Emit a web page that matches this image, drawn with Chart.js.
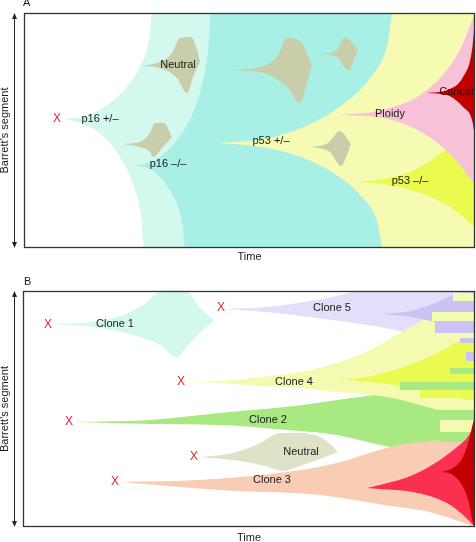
<!DOCTYPE html>
<html>
<head>
<meta charset="utf-8">
<script src="https://cdn.jsdelivr.net/npm/chart.js@4/dist/chart.umd.min.js"></script>
<style>
  body { margin: 0; background: #fff; width: 476px; height: 542px; overflow: hidden; }
  canvas { position: absolute; left: 0; }
  #panelA { top: 0; }
  #panelB { top: 270px; }
</style>
</head>
<body>
<canvas id="panelA" width="476" height="270"></canvas>
<canvas id="panelB" width="476" height="272"></canvas>
<script>
// Units: time 0..451 across the box, segment 0..235 measured down from the top.
// Each clone is an upper and a lower edge starting at the same cusp.

// ---- Panel A ----
const A_P16HET_UP = [[39,106],[62,103],[83,92],[102,75],[116,53],[125,27],[128,0],[451,0]];
const A_P16HET_LO = [[39,106],[60,111],[80,124],[96,144],[109,171],[117,202],[120,235],[451,235]];
const A_P16HOM_UP = [[111,153],[131,147],[149,132],[165,108],[177,76],[184,39],[187,0],[451,0]];
const A_P16HOM_LO = [[111,153],[124,155],[136,164],[146,177],[154,194],[159,214],[161,235],[451,235]];
const A_P53HET_UP = [[194,130],[240,126],[282,113],[318,92],[346,65],[363,33],[369,0],[451,0]];
const A_P53HET_LO = [[194,130],[237,134],[277,144],[311,161],[337,183],[353,208],[359,235],[451,235]];
const A_P53HOM_UP = [[333,169],[359,166],[386,159],[409,146],[429,130],[451,107]];
const A_P53HOM_LO = [[333,169],[359,171],[393,179],[423,192],[451,214]];
const A_PLOIDY_UP = [[316,102],[359,97],[403,77],[436,37],[449,5],[451,0]];
const A_PLOIDY_LO = [[316,102],[359,105],[399,120],[429,144],[451,172]];
const A_CANCER_UP = [[403,80],[423,77],[439,64],[448,37],[451,5]];
const A_CANCER_LO = [[403,80],[423,82],[439,94],[448,107],[451,124]];
const A_NEU1_UP = [[119,53],[136,49],[148,40],[156,25],[167,24],[173,37],[176,49]];
const A_NEU1_LO = [[119,53],[136,55],[153,65],[163,80],[169,64],[176,49]];
const A_NEU2_UP = [[99,131],[116,129],[126,120],[131,110],[140,110],[148,124]];
const A_NEU2_LO = [[99,131],[116,134],[126,139],[129,144],[139,134],[148,124]];
const A_NEU3_UP = [[209,57],[236,54],[253,44],[263,25],[276,28],[288,52]];
const A_NEU3_LO = [[209,57],[243,61],[263,74],[276,90],[283,70],[288,52]];
const A_NEU4_UP = [[297,41],[313,37],[321,24],[334,37]];
const A_NEU4_LO = [[297,41],[313,44],[325,58],[330,47],[334,37]];
const A_NEU5_UP = [[288,134],[304,130],[316,118],[327,131]];
const A_NEU5_LO = [[288,134],[306,139],[317,153],[323,142],[327,131]];

const A_LABELS = ["p16 +/\u2013", "Neutral", "p16 \u2013/\u2013", "p53 +/\u2013", "Ploidy", "p53 \u2013/\u2013", "Cancer"];
const A_LABEL_AT = [[76,106],[154,52],[144,151],[247,128],[366,101],[386,168],[433,79]];
const A_MARKS = [[33,106]];

// ---- Panel B ----
const B_CLONE1_UP = [[30,33],[60,32],[94,26],[120,14],[139,1],[164,1],[177,17],[192,29]];
const B_CLONE1_LO = [[30,33],[70,36],[110,44],[137,54],[153,66],[167,52],[180,39],[192,29]];
const B_NEUTRAL_UP = [[177,166],[210,162],[237,152],[257,142],[277,142],[297,146],[307,153],[315,161]];
const B_NEUTRAL_LO = [[177,166],[217,170],[242,175],[260,180],[277,175],[297,168],[315,161]];
const B_CLONE2_UP = [[51,131],[127,129],[197,122],[280,114],[314,109],[357,103],[397,93],[427,84],[452,73]];
const B_CLONE2_LO = [[51,131],[127,133],[197,134],[264,139],[314,144],[367,156],[397,160],[427,165],[452,171]];
const B_CLONE5_UP = [[204,18],[244,16],[294,9],[344,0],[452,0]];
const B_CLONE5_LO = [[204,18],[244,21],[294,27],[344,34],[377,40],[407,49],[452,69]];
const B_CLONE5B_UP = [[359,23],[387,20],[412,12],[432,3],[452,0]];
const B_CLONE5B_LO = [[359,23],[387,26],[412,31],[432,37],[452,45]];
const B_CLONE4_UP = [[164,91],[197,90],[237,86],[277,81],[317,71],[347,59],[377,42],[407,25],[432,11],[452,1]];
const B_CLONE4_LO = [[164,91],[197,92],[237,95],[264,96],[314,101],[364,106],[397,114],[427,124],[452,139]];
const B_CLONE4B_UP = [[314,88],[337,87],[357,83],[397,70],[424,57],[452,43]];
const B_CLONE4B_LO = [[314,88],[337,90],[357,92],[390,97],[422,104],[452,111]];
const B_CLONE3_UP = [[98,191],[177,189],[264,181],[314,172],[367,156],[397,151],[427,149],[452,150]];
const B_CLONE3_LO = [[98,191],[197,199],[297,204],[367,215],[407,221],[452,236]];
const B_RED_UP = [[344,197],[357,194],[390,184],[417,169],[434,156],[444,147],[452,134]];
const B_RED_LO = [[344,197],[357,198],[390,201],[424,212],[440,224],[452,236]];
const B_DARK_UP = [[419,181],[430,177],[440,166],[446,149],[450,132],[452,124]];
const B_DARK_LO = [[419,181],[430,184],[440,196],[446,212],[450,232],[452,236]];

// interleaved bands near the end of the segment
const B_STRIPE_CLONE = ["c4","c4","c5b","c4","c5b","c4b","c5b","c4b","c2","c4b","c2","c4b","c4","c2","c4","c2"];
const B_STRIPE_START = [430,409,412,432,437,429,443,432,427,417,377,397,417,397,417,417];
const B_STRIPE_TOP   = [2,21,30,42,47,52,61,70,77,83,91,99,109,119,129,141];
const B_STRIPE_BOT   = [10,30,42,47,52,61,70,77,83,90,99,107,119,129,141,151];

const B_LABELS = ["Clone 1", "Clone 5", "Clone 4", "Clone 2", "Neutral", "Clone 3"];
const B_LABEL_AT = [[92,33],[309,17],[271,91],[245,129],[278,161],[249,189]];
const B_MARKS = [[25,34],[198,17],[158,91],[46,131],[171,166],[92,191]];

const COLORS = {
  p16het: "#d3f8ee", p16hom: "#a8efe6", p53het: "#f5fbb2", p53hom: "#ebfa4e",
  ploidy: "#f7c1d7", cancer: "#c30000", neutralA: "#c8cea9",
  c1: "#d3f8ee", neutralB: "#dee3c8", c2: "#a8e981", c5: "#e3dffa", c5b: "#cbc4f3",
  c4: "#f4fbb1", c4b: "#ebfa50", c3: "#f9ccb4", red: "#fb2f50", dark: "#c20000"
};
const FONT = '11px "Liberation Sans", Arial, sans-serif';

const toXY = ([x, y]) => ({ x, y });

// back-to-front list of shapes -> paired datasets filled between edges
function shapeSets(list) {
  const sets = [];
  list.forEach((s, i) => {
    const common = {
      order: list.length - i,
      pointRadius: 0,
      borderWidth: 0,
      borderColor: "rgba(0,0,0,0)",
      cubicInterpolationMode: s.straight ? "default" : "monotone",
      tension: 0
    };
    sets.push({ ...common, data: s.up.map(toXY), fill: "+1", backgroundColor: s.color });
    sets.push({ ...common, data: s.lo.map(toXY), fill: false });
  });
  return sets;
}

const shapesA = [
  { up: A_P16HET_UP, lo: A_P16HET_LO, color: COLORS.p16het },
  { up: A_P16HOM_UP, lo: A_P16HOM_LO, color: COLORS.p16hom },
  { up: A_P53HET_UP, lo: A_P53HET_LO, color: COLORS.p53het },
  { up: A_NEU1_UP, lo: A_NEU1_LO, color: COLORS.neutralA },
  { up: A_NEU2_UP, lo: A_NEU2_LO, color: COLORS.neutralA },
  { up: A_NEU3_UP, lo: A_NEU3_LO, color: COLORS.neutralA },
  { up: A_NEU4_UP, lo: A_NEU4_LO, color: COLORS.neutralA },
  { up: A_NEU5_UP, lo: A_NEU5_LO, color: COLORS.neutralA },
  { up: A_P53HOM_UP, lo: A_P53HOM_LO, color: COLORS.p53hom },
  { up: A_PLOIDY_UP, lo: A_PLOIDY_LO, color: COLORS.ploidy },
  { up: A_CANCER_UP, lo: A_CANCER_LO, color: COLORS.cancer }
];

const stripes = B_STRIPE_CLONE.map((c, i) => ({
  up: [[B_STRIPE_START[i], B_STRIPE_TOP[i]], [452, B_STRIPE_TOP[i]]],
  lo: [[B_STRIPE_START[i], B_STRIPE_BOT[i]], [452, B_STRIPE_BOT[i]]],
  color: COLORS[c],
  straight: true
}));

const shapesB = [
  { up: B_CLONE1_UP, lo: B_CLONE1_LO, color: COLORS.c1 },
  { up: B_NEUTRAL_UP, lo: B_NEUTRAL_LO, color: COLORS.neutralB },
  { up: B_CLONE2_UP, lo: B_CLONE2_LO, color: COLORS.c2 },
  { up: B_CLONE5_UP, lo: B_CLONE5_LO, color: COLORS.c5 },
  { up: B_CLONE4_UP, lo: B_CLONE4_LO, color: COLORS.c4 },
  { up: B_CLONE5B_UP, lo: B_CLONE5B_LO, color: COLORS.c5b },
  { up: B_CLONE4B_UP, lo: B_CLONE4B_LO, color: COLORS.c4b },
  { up: B_CLONE3_UP, lo: B_CLONE3_LO, color: COLORS.c3 },
  ...stripes,
  { up: B_RED_UP, lo: B_RED_LO, color: COLORS.red },
  { up: B_DARK_UP, lo: B_DARK_LO, color: COLORS.dark }
];

// frame, arrows, axis words, clone names and the red X marks
function overlay(cfg) {
  return {
    id: "overlay",
    afterDraw(chart) {
      const { ctx, chartArea: a, scales: { x, y } } = chart;
      ctx.save();
      ctx.font = FONT;
      ctx.textBaseline = "middle";

      // labels, clipped to the box (Cancer runs off the edge)
      ctx.save();
      ctx.beginPath();
      ctx.rect(a.left, a.top, a.right - a.left, a.bottom - a.top);
      ctx.clip();
      ctx.textAlign = "center";
      cfg.labels.forEach((t, i) => {
        ctx.fillStyle = t === "Cancer" ? "#3a0000" : "#1a1a1a";
        ctx.fillText(t, x.getPixelForValue(cfg.labelAt[i][0]), y.getPixelForValue(cfg.labelAt[i][1]));
      });
      ctx.font = '12px "Liberation Sans", Arial, sans-serif';
      ctx.fillStyle = "#e5252f";
      cfg.marks.forEach(([mx, my]) => ctx.fillText("X", x.getPixelForValue(mx), y.getPixelForValue(my)));
      ctx.restore();

      ctx.strokeStyle = "#333";
      ctx.lineWidth = 1.3;
      ctx.strokeRect(a.left + 0.5, a.top + 0.5, a.right - a.left - 1, a.bottom - a.top - 1);

      // double-headed arrow along the segment
      const ax = 14.5;
      ctx.lineWidth = 1;
      ctx.strokeStyle = "#222";
      ctx.fillStyle = "#222";
      ctx.beginPath();
      ctx.moveTo(ax, a.top + 4);
      ctx.lineTo(ax, a.bottom - 4);
      ctx.stroke();
      ctx.beginPath();
      ctx.moveTo(ax, a.top);
      ctx.lineTo(ax - 2.5, a.top + 6);
      ctx.lineTo(ax + 2.5, a.top + 6);
      ctx.fill();
      ctx.beginPath();
      ctx.moveTo(ax, a.bottom);
      ctx.lineTo(ax - 2.5, a.bottom - 6);
      ctx.lineTo(ax + 2.5, a.bottom - 6);
      ctx.fill();

      ctx.font = FONT;
      ctx.fillStyle = "#1a1a1a";
      ctx.textAlign = "center";
      ctx.fillText("Time", (a.left + a.right) / 2, a.bottom + cfg.timeGap);
      ctx.textAlign = "left";
      ctx.fillText(cfg.letter, cfg.letterAt[0], cfg.letterAt[1]);

      ctx.translate(5, (a.top + a.bottom) / 2);
      ctx.rotate(-Math.PI / 2);
      ctx.textAlign = "center";
      ctx.fillText("Barrett\u2019s segment", 0, 0);
      ctx.restore();
    }
  };
}

function makeChart(id, sets, xMax, yMax, pad, cfg) {
  return new Chart(document.getElementById(id), {
    type: "line",
    data: { datasets: sets },
    options: {
      responsive: false,
      animation: false,
      events: [],
      layout: { padding: pad },
      plugins: { legend: { display: false }, tooltip: { enabled: false } },
      scales: {
        x: { type: "linear", min: 0, max: xMax, display: false },
        y: { type: "linear", min: 0, max: yMax, reverse: true, display: false }
      }
    },
    plugins: [overlay(cfg)]
  });
}

makeChart("panelA", shapeSets(shapesA), 451, 235,
  { left: 24, top: 13, right: 1, bottom: 22 },
  { labels: A_LABELS, labelAt: A_LABEL_AT, marks: A_MARKS, letter: "A", letterAt: [23, 3], timeGap: 9 });

makeChart("panelB", shapeSets(shapesB), 452, 236,
  { left: 23, top: 21, right: 1, bottom: 15 },
  { labels: B_LABELS, labelAt: B_LABEL_AT, marks: B_MARKS, letter: "B", letterAt: [24, 12], timeGap: 11 });
</script>
</body>
</html>
